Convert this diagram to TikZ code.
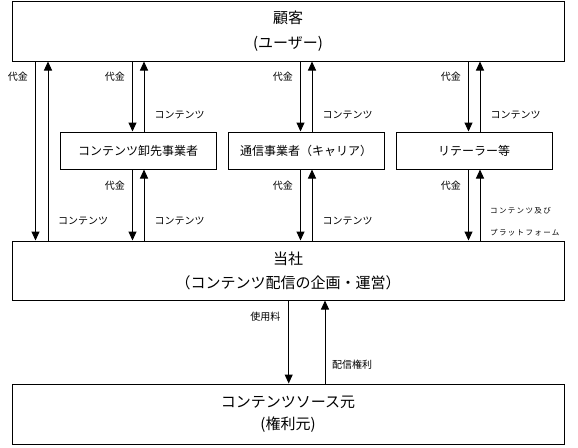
\documentclass[tikz,border=0pt]{standalone}
\usepackage{fontspec}
\setmainfont{Noto Sans CJK JP}
\newfontfamily\spacedfont[LetterSpace=18]{Noto Sans CJK JP}
\usetikzlibrary{arrows.meta,calc}
\tikzset{
  box/.style={draw, line width=1pt, rectangle, inner sep=0pt, align=center},
  bigbox/.style={box, minimum width=552pt, minimum height=60pt, font=\fontsize{15}{25}\selectfont},
  midbox/.style={box, minimum width=156pt, minimum height=37pt, font=\fontsize{12}{14}\selectfont},
  arr/.style={line width=1pt, -{Triangle[width=8pt,length=9pt]}},
  lbl/.style={inner sep=0pt, font=\fontsize{10}{12}\selectfont},
  tinylbl/.style={inner sep=0pt, font=\fontsize{7.5}{9}\spacedfont}
}
\begin{document}
\begin{tikzpicture}[x=1pt,y=-1pt]
\useasboundingbox (0,0) rectangle (578,447);
% boxes
\node[bigbox] (kokyaku) at (288,31) {顧客\\(ユーザー)};
\node[midbox] (m1) at (138,150.5) {コンテンツ卸先事業者};
\node[midbox] (m2) at (306,150.5) {通信事業者（キャリア）};
\node[midbox] (m3) at (474,150.5) {リテーラー等};
\node[bigbox, minimum height=59pt, font=\fontsize{15}{24}\selectfont] (tosha) at (288,270.5) {当社\\（コンテンツ配信の企画・運営）};
\node[bigbox, font=\fontsize{15}{22}\selectfont] (source) at (288,414) {コンテンツソース元\\(権利元)};
% outer pair (customer <-> company)
\draw[arr] ([xshift=24pt]kokyaku.south west) -- ([xshift=24pt]tosha.north west);
\draw[arr] ([xshift=36.5pt]tosha.north west) -- ([xshift=36.5pt]kokyaku.south west);
% customer <-> middle boxes <-> company
\foreach \m in {m1,m2,m3}{
  \draw[arr] ([xshift=-5.5pt]\m.north |- kokyaku.south) -- ([xshift=-5.5pt]\m.north);
  \draw[arr] ([xshift=6pt]\m.north) -- ([xshift=6pt]\m.north |- kokyaku.south);
  \draw[arr] ([xshift=-5.5pt]\m.south) -- ([xshift=-5.5pt]\m.south |- tosha.north);
  \draw[arr] ([xshift=6pt]\m.south |- tosha.north) -- ([xshift=6pt]\m.south);
}
% company <-> source
\draw[arr] ([xshift=0.7pt]tosha.south) -- ([xshift=0.7pt]source.north);
\draw[arr] ([xshift=37pt]source.north) -- ([xshift=37pt]tosha.south);
% labels upper
\node[lbl, anchor=east] (l1) at (28,77) {代金};
\node[lbl, anchor=east] (l2) at (125,77) {代金};
\node[lbl, anchor=east] (l3) at (293,77) {代金};
\node[lbl, anchor=east] (l4) at (461,77) {代金};
\node[lbl, anchor=west] (c2) at (154.5,115) {コンテンツ};
\node[lbl, anchor=west] (c3) at (322.5,115) {コンテンツ};
\node[lbl, anchor=west] (c4) at (490.5,115) {コンテンツ};
% labels lower
\node[lbl, anchor=east] (d2) at (125,186) {代金};
\node[lbl, anchor=east] (d3) at (293,186) {代金};
\node[lbl, anchor=east] (d4) at (461,186) {代金};
\node[lbl, anchor=west] (e1) at (58,220.5) {コンテンツ};
\node[lbl, anchor=west] (e2) at (154.5,220.5) {コンテンツ};
\node[lbl, anchor=west] (e3) at (322.5,220.5) {コンテンツ};
\node[tinylbl, anchor=west] (e4a) at (490,210.5) {コンテンツ及び};
\node[tinylbl, anchor=west] (e4b) at (490,233) {プラットフォーム};
% labels bottom
\node[lbl, anchor=east] (u1) at (280.5,317) {使用料};
\node[lbl, anchor=west] (u2) at (332,364.5) {配信権利};
\end{tikzpicture}
\end{document}
